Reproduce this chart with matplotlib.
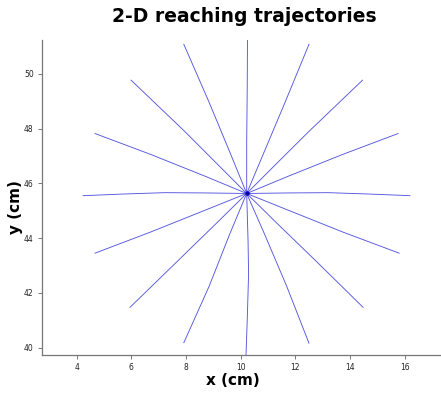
import matplotlib
matplotlib.use("Agg")
import matplotlib.pyplot as plt

# reach trajectories, points (x, y in cm)
center = (10.22, 45.63)

traj_x = [
    [10.22, 10.22, 10.24, 10.25],          # 90
    [10.22, 9.62, 8.85, 7.92],             # 112.5
    [10.22, 9.12, 7.95, 5.99],             # 135
    [10.22, 8.70, 6.70, 4.67],             # 157.5
    [10.22, 8.70, 7.23, 5.70, 4.24],       # 180
    [10.22, 8.70, 6.70, 4.67],             # 202.5
    [10.22, 9.10, 7.65, 5.95],             # 225
    [10.22, 9.60, 8.85, 7.92],             # 247.5
    [10.22, 10.27, 10.29, 10.24, 10.19],   # 270
    [10.22, 10.84, 11.62, 12.50],          # 67.5
    [10.22, 11.32, 12.50, 14.46],          # 45
    [10.22, 11.74, 13.74, 15.76],          # 22.5
    [10.22, 11.74, 13.20, 14.70, 16.19],   # 0
    [10.22, 11.74, 13.74, 15.80],          # -22.5
    [10.22, 11.34, 12.80, 14.48],          # -45
    [10.22, 10.85, 11.68, 12.50],          # -67.5
]
traj_y = [
    [45.63, 47.50, 49.50, 51.50],
    [45.63, 47.10, 48.95, 51.08],
    [45.63, 46.73, 47.90, 49.77],
    [45.63, 46.26, 47.06, 47.82],
    [45.63, 45.65, 45.66, 45.61, 45.55],
    [45.63, 45.02, 44.22, 43.45],
    [45.63, 44.53, 43.12, 41.47],
    [45.63, 44.15, 42.25, 40.18],
    [45.63, 43.90, 42.70, 41.00, 39.60],
    [45.63, 47.10, 48.95, 51.08],
    [45.63, 46.73, 47.90, 49.77],
    [45.63, 46.26, 47.06, 47.82],
    [45.63, 45.65, 45.66, 45.61, 45.55],
    [45.63, 45.02, 44.22, 43.45],
    [45.63, 44.53, 43.12, 41.47],
    [45.63, 44.20, 42.25, 40.16],
]

x_ticks = [4, 6, 8, 10, 12, 14, 16]
y_ticks = [40, 42, 44, 46, 48, 50]

fig = plt.figure(figsize=(4.41, 3.94), dpi=100)
ax = fig.add_axes([0.0952, 0.099, 0.9048, 0.799])

for xs, ys in zip(traj_x, traj_y):
    ax.plot(xs, ys, color='#5656e0', linewidth=0.65)
ax.plot([center[0]], [center[1]], 'o', color='#0000b0', markersize=2.2)

ax.set_xlim(2.73, 17.33)
ax.set_ylim(39.73, 51.23)
ax.set_xticks(x_ticks)
ax.set_yticks(y_ticks)

for side in ['top', 'right']:
    ax.spines[side].set_visible(False)
for side in ['left', 'bottom']:
    ax.spines[side].set_color('#777777')
    ax.spines[side].set_linewidth(0.9)
ax.tick_params(direction='out', length=3, width=0.7, colors='#777777',
               labelsize=5.5, labelcolor='#222222', pad=3)

fig.text(0.553, 0.958, '2-D reaching trajectories', ha='center', va='center',
         fontsize=13.5, fontweight='bold')
fig.text(0.528, 0.035, 'x (cm)', ha='center', va='center',
         fontsize=11, fontweight='bold')
fig.text(0.036, 0.475, 'y (cm)', ha='center', va='center', rotation=90,
         fontsize=11, fontweight='bold')

fig.savefig('out.png', dpi=100)
